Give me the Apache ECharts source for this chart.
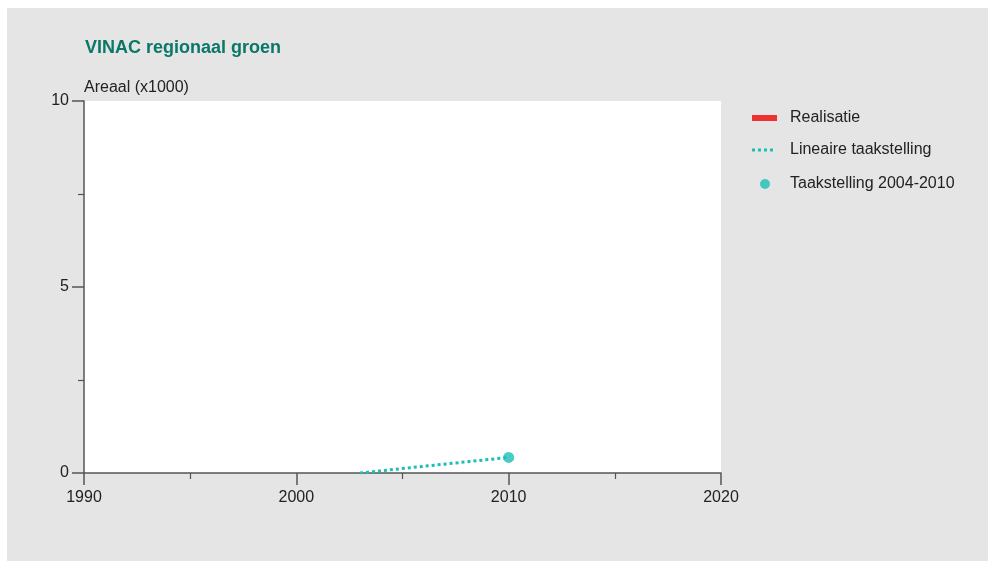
<!DOCTYPE html>
<html>
<head>
<meta charset="utf-8">
<script src="https://cdn.jsdelivr.net/npm/echarts@6/dist/echarts.min.js"></script>
<style>
  html, body { margin: 0; padding: 0; background: #ffffff; }
  #bg { position: absolute; left: 7px; top: 8px; width: 981px; height: 553px; background: #e5e5e5; }
  #chart { position: absolute; left: 0; top: 0; width: 988px; height: 561px; }
</style>
</head>
<body>
<div id="bg"></div>
<div id="chart"></div>
<script>
// Data
var titleText = 'VINAC regionaal groen';
var yAxisName = 'Areaal (x1000)';
var seriesNames = ['Realisatie', 'Lineaire taakstelling', 'Taakstelling 2004-2010'];
var realisatie = [];                       // no realisation data shown
var lineairYears = [2003, 2010];
var lineairValues = [0, 0.42];
var taakYears = [2010];
var taakValues = [0.42];

var teal = '#1cbfb4';
var red = '#ee3131';
var txt = '#222222';
var axisCol = '#555555';
var font = '"Liberation Sans", Arial, sans-serif';

function pairs(xs, ys) { return xs.map(function (x, i) { return [x, ys[i]]; }); }

var legendText = { color: txt, fontSize: 16, fontFamily: font };
var dottedIcon = 'path://M0,0h3v3h-3z M6,0h3v3h-3z M12,0h3v3h-3z M18,0h3v3h-3z';

var chart = echarts.init(document.getElementById('chart'), null, { renderer: 'canvas' });
chart.setOption({
  backgroundColor: 'transparent',
  animation: false,
  textStyle: { fontFamily: font },
  title: {
    text: titleText,
    left: 80, top: 34,
    textStyle: { color: '#0b7766', fontSize: 18, fontWeight: 'bold', fontFamily: font }
  },
  legend: [
    {
      left: 752, top: 110, padding: 0,
      itemWidth: 25, itemHeight: 6,
      textStyle: Object.assign({ padding: [0, 0, 0, 8] }, legendText),
      data: [{ name: seriesNames[0], icon: 'rect', itemStyle: { color: red } }]
    },
    {
      left: 752, top: 142, padding: 0,
      itemWidth: 21, itemHeight: 3,
      textStyle: Object.assign({ padding: [0, 0, 0, 12] }, legendText),
      data: [{ name: seriesNames[1], icon: dottedIcon, itemStyle: { color: teal } }]
    },
    {
      left: 760, top: 176, padding: 0,
      itemWidth: 10, itemHeight: 10,
      textStyle: Object.assign({ padding: [0, 0, 0, 15] }, legendText),
      data: [{ name: seriesNames[2], icon: 'circle', itemStyle: { color: teal } }]
    }
  ],
  grid: {
    left: 84, right: 267, top: 101, bottom: 88,
    show: true, backgroundColor: '#ffffff', borderWidth: 0
  },
  xAxis: {
    type: 'value', min: 1990, max: 2020, interval: 10,
    axisLine: { show: true, onZero: false, lineStyle: { color: axisCol, width: 1.5 } },
    axisTick: { show: true, length: 12, lineStyle: { color: axisCol, width: 1.5 } },
    minorTick: { show: true, splitNumber: 2, length: 6, lineStyle: { color: axisCol, width: 1.2 } },
    splitLine: { show: false },
    axisLabel: { color: txt, fontSize: 16, margin: 17, fontFamily: font, formatter: function (v) { return String(v); } }
  },
  yAxis: {
    type: 'value', min: 0, max: 10, interval: 5,
    name: yAxisName, nameLocation: 'end', nameGap: 5,
    nameTextStyle: { color: txt, fontSize: 16, align: 'left', fontFamily: font },
    axisLine: { show: true, lineStyle: { color: axisCol, width: 1.5 } },
    axisTick: { show: true, length: 12, lineStyle: { color: axisCol, width: 1.5 } },
    minorTick: { show: true, splitNumber: 2, length: 6, lineStyle: { color: axisCol, width: 1.2 } },
    splitLine: { show: false },
    axisLabel: { color: txt, fontSize: 16, margin: 15, fontFamily: font }
  },
  series: [
    {
      name: seriesNames[0], type: 'line', data: realisatie,
      symbol: 'none', lineStyle: { color: red, width: 4 }, itemStyle: { color: red }
    },
    {
      name: seriesNames[1], type: 'line', data: pairs(lineairYears, lineairValues),
      symbol: 'none', lineStyle: { color: teal, width: 3, type: [3, 3], cap: 'butt' }, itemStyle: { color: teal }
    },
    {
      name: seriesNames[2], type: 'scatter', data: pairs(taakYears, taakValues),
      symbol: 'circle', symbolSize: 11, itemStyle: { color: teal }
    }
  ]
});
</script>
</body>
</html>
